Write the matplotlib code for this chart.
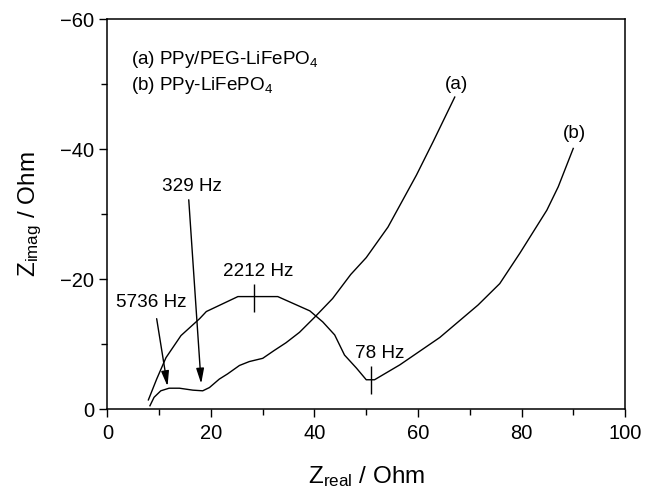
import numpy as np
import matplotlib
matplotlib.use('Agg')
import matplotlib.pyplot as plt

plt.rcParams['font.family'] = ['Liberation Sans', 'DejaVu Sans']
plt.rcParams['mathtext.fontset'] = 'custom'
plt.rcParams['mathtext.rm'] = 'Liberation Sans'
plt.rcParams['mathtext.it'] = 'Liberation Sans'
plt.rcParams['mathtext.default'] = 'regular'

# curve (a) PPy/PEG-LiFePO4, -Zimag
a_zre = [8.2, 9.0, 10.3, 11.9, 13.9, 16.5, 18.4, 19.7, 21.6, 23.2, 25.5, 27.4,
         30.0, 32.2, 34.5, 37.1, 40.0, 43.5, 47.0, 50.0, 54.2, 59.7, 62.9, 67.1]
a_zim = [0.5, 1.8, 2.8, 3.2, 3.2, 2.9, 2.8, 3.3, 4.6, 5.4, 6.7, 7.3,
         7.8, 9.0, 10.2, 11.8, 14.1, 17.0, 20.7, 23.3, 28.0, 36.0, 41.1, 48.0]

# curve (b) PPy-LiFePO4
b_zre = [7.9, 9.5, 11.3, 14.2, 17.8, 19.1, 25.2, 32.9, 39.1, 41.6, 43.9, 45.8,
         48.1, 50.0, 51.6, 56.5, 64.2, 71.6, 75.8, 79.7, 84.9, 87.1, 90.0]
b_zim = [1.4, 4.6, 7.9, 11.3, 13.9, 15.0, 17.3, 17.3, 15.1, 13.4, 11.4, 8.3,
         6.3, 4.5, 4.5, 6.8, 11.0, 16.0, 19.3, 24.0, 30.6, 34.2, 40.1]

# frequency labels
arrow_labels = ['5736 Hz', '329 Hz']
arrow_text = [(8.4, 16.4), (16.3, 34.2)]
arrow_start = [(9.5, 13.9), (15.7, 32.2)]
arrow_tip = [(11.6, 3.5), (18.1, 3.9)]

tick_labels = ['2212 Hz', '78 Hz']
tick_text = [(29.1, 21.1), (52.6, 8.6)]
tick_pts = [(28.4, 17.1), (51.0, 4.45)]

fs = 13.6

fig = plt.figure(figsize=(6.46, 4.90), dpi=100)
ax = fig.add_axes([0.1664, 0.1653, 0.8011, 0.7957])

ax.plot(a_zre, -np.array(a_zim), color='black', lw=1.0)
ax.plot(b_zre, -np.array(b_zim), color='black', lw=1.0)

for lab, t, s, p in zip(arrow_labels, arrow_text, arrow_start, arrow_tip):
    ax.text(t[0], -t[1], lab, fontsize=fs, ha='center', va='center')
    ax.annotate('', xy=(p[0], -p[1]), xytext=(s[0], -s[1]),
                arrowprops=dict(arrowstyle='-|>,head_length=0.7,head_width=0.18',
                                color='black', lw=1.0, shrinkA=0, shrinkB=0),
                fontsize=13)

for lab, t, p in zip(tick_labels, tick_text, tick_pts):
    ax.text(t[0], -t[1], lab, fontsize=fs, ha='center', va='center')
    ax.plot(p[0], -p[1], marker='|', ms=20, mew=1.0, color='black')

ax.text(67.4, -50.0, '(a)', fontsize=fs, ha='center', va='center')
ax.text(90.3, -42.4, '(b)', fontsize=fs, ha='center', va='center')
ax.text(4.6, -53.8, '(a) PPy/PEG-LiFePO$_4$', fontsize=fs, ha='left', va='center')
ax.text(4.6, -49.8, '(b) PPy-LiFePO$_4$', fontsize=fs, ha='left', va='center')

ax.set_xlim(0, 100)
ax.set_ylim(0, -60)
ax.set_xticks(np.arange(0, 101, 20))
ax.set_xticks(np.arange(10, 100, 20), minor=True)
ax.set_yticks(np.arange(0, -61, -20))
ax.set_yticks(np.arange(-10, -60, -20), minor=True)
ax.tick_params(which='both', direction='out', top=False, right=False,
               labelsize=14.5, width=1.0)
ax.tick_params(which='major', length=6)
ax.tick_params(which='minor', length=4)
ax.tick_params(axis='x', pad=5)
for sp in ax.spines.values():
    sp.set_linewidth(1.1)

ax.set_xlabel('Z$_{real}$ / Ohm', fontsize=17.5, labelpad=15)
ax.set_ylabel('Z$_{imag}$ / Ohm', fontsize=17.5, labelpad=12)

plt.savefig('out.png', dpi=100)
